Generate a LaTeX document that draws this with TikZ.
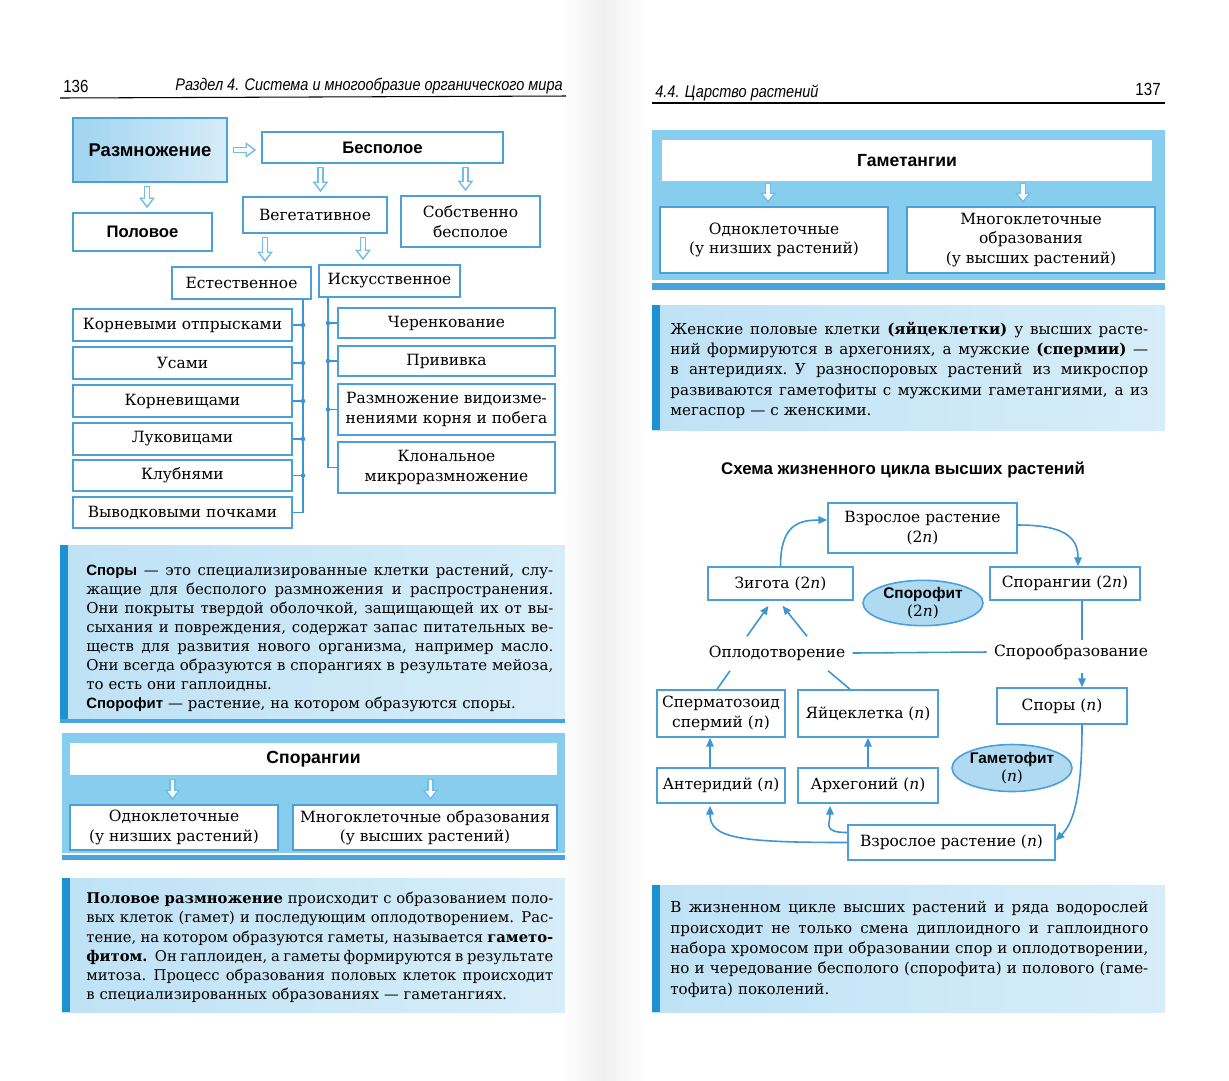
\documentclass[tikz,border=0pt]{standalone}
\usepackage{fontspec}
\setmainfont{DejaVu Serif}
\setsansfont{Liberation Sans}
\usetikzlibrary{arrows.meta,calc,positioning,shapes.geometric}
\definecolor{boxblue}{RGB}{75,160,215}
\definecolor{arblue}{RGB}{60,150,210}
\definecolor{hollowblue}{RGB}{115,190,232}
\definecolor{panelblue}{RGB}{135,205,238}
\definecolor{stripeblue}{RGB}{70,165,220}
\definecolor{paleA}{RGB}{190,226,245}
\definecolor{paleB}{RGB}{215,237,249}
\definecolor{barblue}{RGB}{30,145,210}
\definecolor{ellblue}{RGB}{175,218,242}
\definecolor{razA}{RGB}{160,212,240}
\definecolor{razB}{RGB}{215,236,249}
\newlength{\parw}
\newcommand{\jl}[1]{\leavevmode\hbox to \parw{\spaceskip=0.3em plus 2em minus 0.15em #1}\\}
\newcommand{\hs}[1]{\textsf{\bfseries #1}}
\newcommand{\nn}{\textit{n}}

\begin{document}
\begin{tikzpicture}[x=0.02cm,y=-0.02cm,
  rect/.style args={#1/#2/#3/#4}{at={({(#1+#3)/2},{(#2+#4)/2})},
    minimum width={(#3-#1)*0.02cm},minimum height={(#4-#2)*0.02cm}},
  bx/.style={draw=boxblue,line width=0.9pt,fill=white,inner sep=0pt,align=center,
    font=\fontsize{8.8}{11}\selectfont},
  hbx/.style={bx,font=\sffamily\bfseries\fontsize{9.5}{11}\selectfont},
  para/.style={inner sep=0pt,anchor=north west,align=left},
  hdr/.style={font=\sffamily\itshape\fontsize{9.6}{11}\selectfont,xscale=0.86,transform shape},
  harr/.style={draw=hollowblue,line width=3.8pt,-{Triangle[length=6pt,width=9pt,line width=0pt]},
    postaction={draw=white,line width=2pt,shorten <=0.9pt,shorten >=1.6pt,
      -{Triangle[length=3.6pt,width=5.6pt,line width=0pt]}}},
  ln/.style={draw=arblue,line width=0.9pt},
  ar/.style={ln,-{Triangle[length=5pt,width=4.2pt]}},
  lbl/.style={inner sep=4pt,font=\fontsize{8.8}{11}\selectfont},
  oval/.style={ellipse,draw=boxblue,line width=0.9pt,fill=ellblue,inner sep=0pt,align=center,
    minimum width=2.4cm,font=\fontsize{8.8}{10.5}\selectfont}]
\useasboundingbox (0,0) rectangle (1229,1080);
\fill[white] (0,0) rectangle (1229,1080);
\shade[left color=white,right color=black!6] (560,0) rectangle (603,1080);
\shade[left color=black!6,right color=white] (603,0) rectangle (645,1080);

% page headers
\node[hdr,font=\sffamily\fontsize{10}{12}\selectfont,anchor=west] (pg1) at (58,86) {136};
\node[hdr,anchor=east] (hd1) at (568,86) {Раздел 4. Система и многообразие органического мира};
\draw[line width=0.6pt] (60,98) -- (566,96);
\node[hdr,anchor=west] (hd2) at (650,93) {4.4. Царство растений};
\node[hdr,font=\sffamily\fontsize{10}{12}\selectfont,anchor=east] (pg2) at (1166,89) {137};
\draw[line width=0.6pt] (652,103) -- (1165,103);

% reproduction scheme
\node[hbx,left color=razA,right color=razB,font=\sffamily\bfseries\fontsize{10.5}{12}\selectfont,
  rect=73/118/227/182] (razm) {Размножение};
\node[hbx,rect=262/132/503/163] (besp) {Бесполое};
\node[hbx,rect=73/213/212/251] (pol) {Половое};
\node[bx,rect=243/197/387/233] (veg) {Вегетативное};
\node[bx,rect=401/196/540/247] (sobs) {Собственно\\бесполое};
\node[bx,rect=172/267/311/299] (est) {Естественное};
\node[bx,rect=319/265/460/297] (isk) {Искусственное};
\draw[harr] ($(razm.east)+(5,0)$) -- ($(besp.west |- razm.east)+(-5,0)$);
\foreach \s/\t/\dx in {razm/pol/-3,besp/veg/-62,besp/sobs/83,veg/est/-50,veg/isk/48}
  \draw[harr] ($(\s.south)+(\dx,3)$) -- ($(\s.south |- \t.north)+(\dx,-4)$);

\coordinate (axL) at (303,0);
\coordinate (axI) at (328,0);
\foreach \n/\t/\ya/\yb in {kor/Корневыми отпрысками/309/341,usa/Усами/347/379,
    kvi/Корневищами/385/417,luk/Луковицами/423/455,klu/Клубнями/460/491,vyv/Выводковыми почками/497/528}{
  \node[bx,rect=73/\ya/292/\yb] (\n) {\t};
  \draw[ln] (\n.east) -- (\n.east -| axL);
}
\draw[ln] (est.south -| axL) -- (vyv.east -| axL);
\foreach \n in {kor,usa,kvi,luk,klu}
  \fill[arblue] (\n.east -| axL) circle (2.3);
\foreach \n/\t/\ya/\yb in {che/Черенкование/308/338,pri/Прививка/346/376,
    vid/Размножение видоизме-\\нениями корня и побега/384/435,klo/Клональное\\микроразмножение/442/493}{
  \node[bx,rect=338/\ya/555/\yb] (\n) {\t};
  \draw[ln] (\n.west -| axI) -- (\n.west);
}
\draw[ln] (isk.south -| axI) -- (klo.west -| axI);
\foreach \n in {che,pri,vid}
  \fill[arblue] (\n.west -| axI) circle (2.3);

% spores definition
\shade[left color=paleA,right color=paleB] (60,545) rectangle (565,722);
\fill[barblue] (60,545) rectangle (68,722);
\fill[stripeblue] (60,719) rectangle (565,723);
\node[para,text width=9.34cm,font=\fontsize{8.5}{10.8}\selectfont] (sporytxt) at (86,564) {\parw=9.34cm
\jl{\hs{Споры} — это специализированные клетки растений, слу-}
\jl{жащие для бесполого размножения и распространения.}
\jl{Они покрыты твердой оболочкой, защищающей их от вы-}
\jl{сыхания и повреждения, содержат запас питательных ве-}
\jl{ществ для развития нового организма, например масло.}
\jl{Они всегда образуются в спорангиях в результате мейоза,}
то есть они гаплоидны.\\
\hs{Спорофит} — растение, на котором образуются споры.};

% sporangia panel
\fill[panelblue] (62,733) rectangle (565,853);
\fill[stripeblue] (62,855) rectangle (565,860);
\node[hbx,draw=none,font=\sffamily\bfseries\fontsize{10}{12}\selectfont,rect=70/743/557/775] (sprg) {Спорангии};
\node[bx,rect=70/805/278/850] (odn1) {Одноклеточные\\(у низших растений)};
\node[bx,rect=293/805/557/850] (mng1) {Многоклеточные образования\\(у высших растений)};
\draw[harr] ($(sprg.south)+(-141,3)$) -- ($(sprg.south |- odn1.north)+(-141,-4)$);
\draw[harr] ($(sprg.south)+(117,3)$) -- ($(sprg.south |- mng1.north)+(117,-4)$);

% sexual reproduction definition
\shade[left color=paleA,right color=paleB] (62,878) rectangle (565,1012);
\fill[barblue] (62,878) rectangle (70,1012);
\node[para,text width=9.34cm,font=\fontsize{8.4}{10.9}\selectfont] (poltxt) at (86,892) {\parw=9.34cm
\jl{\textbf{Половое размножение} происходит с образованием поло-}
\jl{вых клеток (гамет) и последующим оплодотворением. Рас-}
\jl{тение, на котором образуются гаметы, называется \textbf{гамето-}}
\jl{\textbf{фитом.} Он гаплоиден, а гаметы формируются в результате}
\jl{митоза. Процесс образования половых клеток происходит}
в специализированных образованиях — гаметангиях.};

% gametangia panel
\fill[panelblue] (652,130) rectangle (1165,280);
\fill[stripeblue] (652,283) rectangle (1165,290);
\node[hbx,draw=none,font=\sffamily\bfseries\fontsize{10}{12}\selectfont,rect=662/140/1152/181] (gmtg) {Гаметангии};
\node[bx,rect=660/207/888/273] (odn2) {Одноклеточные\\(у низших растений)};
\node[bx,rect=907/207/1155/273] (mng2) {Многоклеточные\\образования\\(у высших растений)};
\draw[harr] ($(gmtg.south)+(-139,1)$) -- ($(gmtg.south |- odn2.north)+(-139,-3)$);
\draw[harr] ($(gmtg.south)+(116,1)$) -- ($(gmtg.south |- mng2.north)+(116,-3)$);

% female and male cells definition
\shade[left color=paleA,right color=paleB] (652,305) rectangle (1165,430);
\fill[barblue] (652,305) rectangle (660,430);
\node[para,text width=9.56cm,font=\fontsize{8.6}{11.45}\selectfont] (zhtxt) at (670,322) {\parw=9.56cm
\jl{Женские половые клетки \textbf{(яйцеклетки)} у высших расте-}
\jl{ний формируются в архегониях, а мужские \textbf{(спермии)} —}
\jl{в антеридиях. У разноспоровых растений из микроспор}
\jl{развиваются гаметофиты с мужскими гаметангиями, а из}
мегаспор — с женскими.};

% life cycle
\node[font=\sffamily\bfseries\fontsize{9.6}{12}\selectfont] (title) at (903,470) {Схема жизненного цикла высших растений};
\node[bx,rect=828/503/1017/553] (v2) {Взрослое растение\\(2\nn)};
\node[bx,rect=708/567/853/600] (zig) {Зигота (2\nn)};
\node[bx,rect=990/567/1140/600] (spr) {Спорангии (2\nn)};
\node[oval,minimum height=0.86cm] (spf) at (923,603) {\hs{Спорофит}\\(2\nn)};
\node[lbl] (opl) at (777,653) {Оплодотворение};
\node[lbl] (sporo) at (1071,652) {Спорообразование};
\node[bx,rect=657/690/785/737] (sperm) {Сперматозоид\\спермий (\nn)};
\node[bx,rect=798/690/938/737] (egg) {Яйцеклетка (\nn)};
\node[bx,rect=997/688/1127/724] (spory) {Споры (\nn)};
\node[bx,rect=657/768/785/803] (ant) {Антеридий (\nn)};
\node[bx,rect=798/768/938/803] (arh) {Архегоний (\nn)};
\node[oval,minimum height=0.94cm] (gmf) at (1012,768) {\hs{Гаметофит}\\(\nn)};
\node[bx,rect=848/825/1055/860] (vn) {Взрослое растение (\nn)};
\coordinate (axR) at (1082,0);
\draw[ar] (zig.north) .. controls +(0,-40) and +(-30,0) .. ($(v2.west)+(0,-8)$);
\draw[ar] ($(v2.east)+(0,-3)$) .. controls +(45,0) and +(0,-30) .. ($(spr.north)+(13,0)$);
\draw[ar] ($(opl.north)+(-30,-2)$) -- ($(zig.south)+(-12,5)$);
\draw[ar] ($(opl.north)+(30,-2)$) -- ($(zig.south)+(2,5)$);
\draw[ln] ($(sperm.north)+(-4,0)$) -- ($(opl.south)+(-47,3)$);
\draw[ln] ($(egg.north)+(-18,0)$) -- ($(opl.south)+(51,3)$);
\draw[ln] (opl.east) -- (sporo.west);
\draw[ln] (spr.south -| axR) -- ($(sporo.north -| axR)+(0,3)$);
\draw[ar] ($(sporo.south -| axR)+(0,6)$) -- (spory.north -| axR);
\draw[ar] (spory.south -| axR) .. controls +(0,80) and +(15,-15) .. ($(vn.east)+(0,-2)$);
\draw[ar] ($(ant.north)+(-11,0)$) -- ($(sperm.south)+(-11,0)$);
\draw[ar] (arh.north) -- (egg.south);
\draw[ar] (vn.west) .. controls +(-110,0) and +(0,32) .. ($(ant.south)+(-11,2)$);
\draw[ar] ($(vn.west)+(0,-10)$) .. controls +(-25,0) and +(0,18) .. ($(arh.south)+(-38,2)$);

% alternation definition
\shade[left color=paleA,right color=paleB] (652,885) rectangle (1165,1012);
\fill[barblue] (652,885) rectangle (660,1012);
\node[para,text width=9.56cm,font=\fontsize{8.6}{11.6}\selectfont] (cyctxt) at (670,901) {\parw=9.56cm
\jl{В жизненном цикле высших растений и ряда водорослей}
\jl{происходит не только смена диплоидного и гаплоидного}
\jl{набора хромосом при образовании спор и оплодотворении,}
\jl{но и чередование бесполого (спорофита) и полового (гаме-}
тофита) поколений.};
\end{tikzpicture}
\end{document}
